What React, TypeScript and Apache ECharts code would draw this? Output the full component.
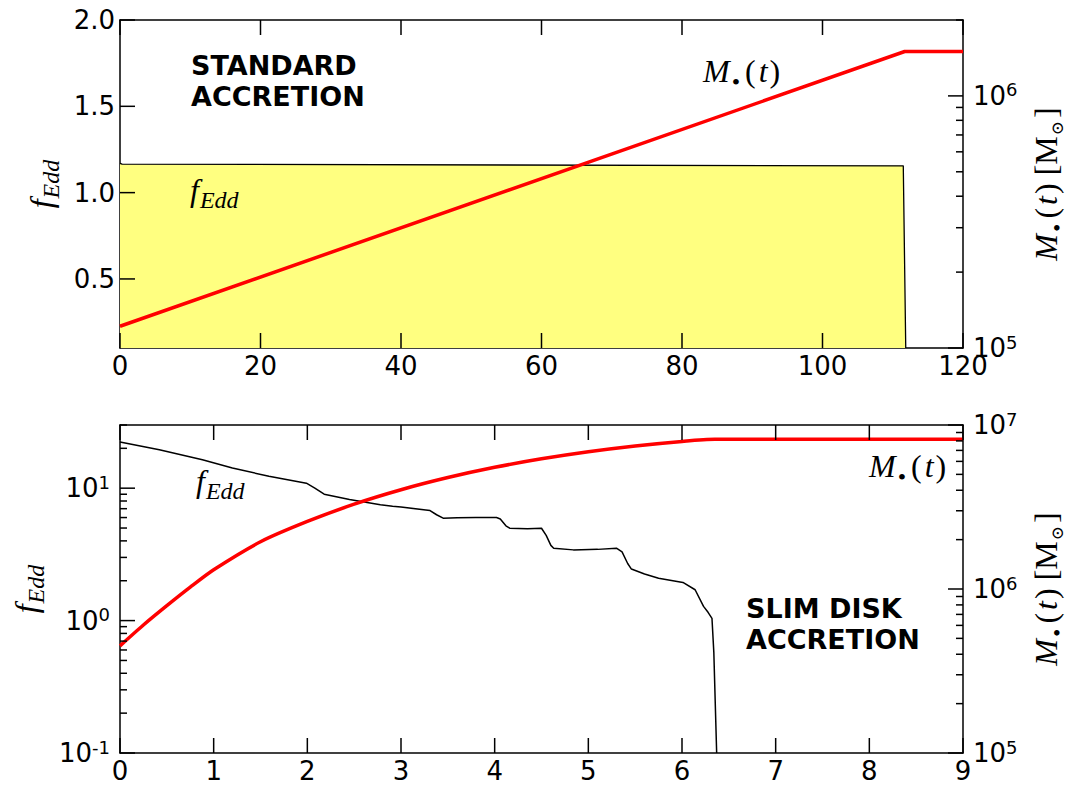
import React, { useEffect, useRef } from "react";
import * as echarts from "echarts";

// ---------- DATA ----------
// Top panel (standard accretion), time axis 0..120
const topFeddT = [0, 0.3, 111.5, 111.85];
const topFeddV = [1.17, 1.165, 1.155, 0.1];
const topMassT = [0, 111.7, 120];
const topMassV = [1.22e5, 1.5e6, 1.5e6];

// Bottom panel (slim disk accretion), time axis 0..9
const botFeddT = [0, 0.42, 0.88, 1.2, 1.59, 1.99, 2.08, 2.18, 2.45, 2.78, 2.91, 3.0, 3.31, 3.38, 3.45, 3.6, 3.8, 4.02, 4.06, 4.12, 4.16, 4.35, 4.5, 4.55, 4.6, 4.63, 4.84, 5.1, 5.3, 5.36, 5.42, 5.46, 5.6, 5.75, 6.01, 6.14, 6.23, 6.28, 6.32, 6.34, 6.37];
const botFeddV = [22.3, 19.5, 16.4, 14.2, 12.3, 10.9, 10.0, 9.0, 8.2, 7.5, 7.3, 7.2, 6.78, 6.3, 5.94, 5.97, 6.0, 6.0, 5.85, 5.2, 4.99, 4.93, 4.98, 4.4, 3.7, 3.52, 3.42, 3.45, 3.52, 3.3, 2.7, 2.45, 2.25, 2.09, 1.94, 1.71, 1.28, 1.15, 1.04, 0.57, 0.1];
const botMassT = [0, 0.25, 0.5, 0.75, 1, 1.5, 2, 2.5, 3, 3.5, 4, 4.5, 5, 5.5, 6, 6.35, 9];
const botMassV = [4.5e5, 6.03e5, 7.91e5, 1.026e6, 1.31e6, 1.94e6, 2.58e6, 3.29e6, 4.03e6, 4.78e6, 5.52e6, 6.22e6, 6.87e6, 7.45e6, 7.94e6, 8.18e6, 8.18e6];

// Tick values
const topXTicks = [0, 20, 40, 60, 80, 100, 120];
const botXTicks = [0, 1, 2, 3, 4, 5, 6, 7, 8, 9];
const topLinTicks = [0.5, 1.0, 1.5, 2.0];
const topLogMajor = [1e5, 1e6];
const topLogMinor = [2e5, 3e5, 4e5, 5e5, 6e5, 7e5, 8e5, 9e5, 2e6];
const botLeftMajor = [0.1, 1, 10];
const botLeftMinor = [0.2, 0.3, 0.4, 0.5, 0.6, 0.7, 0.8, 0.9, 2, 3, 4, 5, 6, 7, 8, 9, 20, 30];
const botRightMajor = [1e5, 1e6, 1e7];
const botRightMinor = [2e5, 3e5, 4e5, 5e5, 6e5, 7e5, 8e5, 9e5, 2e6, 3e6, 4e6, 5e6, 6e6, 7e6, 8e6, 9e6];

// axis ranges
const TOP_X = [0, 120];
const BOT_X = [0, 9];
const TOP_LIN = [0.1, 2.0];
const TOP_LOG = [1e5, 2e6];
const BOT_LEFT = [0.1, 30];
const BOT_RIGHT = [1e5, 1e7];

const zip = (a: number[], b: number[]) => a.map((v, i) => [v, b[i]]);

const GRIDS = [
  { left: 120, top: 20, width: 843, height: 328 },
  { left: 120, top: 425, width: 843, height: 328 },
];

const TICK_FONT = "DejaVu Sans";
const MATH_FONT = "Liberation Serif";
const FS = 26;

const mathRich: any = {
  i: { fontFamily: MATH_FONT, fontStyle: "italic", fontSize: 32, color: "#000", lineHeight: 36, verticalAlign: "top" },
  t: { fontFamily: MATH_FONT, fontStyle: "italic", fontSize: 32, color: "#000", lineHeight: 36, verticalAlign: "top", padding: [0, 2, 0, 3] },
  n: { fontFamily: MATH_FONT, fontSize: 32, color: "#000", lineHeight: 36, verticalAlign: "top" },
  s: { fontFamily: MATH_FONT, fontStyle: "italic", fontSize: 24, color: "#000", lineHeight: 20, height: 20, verticalAlign: "bottom", padding: [0, 0, 0, 1] },
  d: { fontFamily: MATH_FONT, fontSize: 24, color: "#000", lineHeight: 18, height: 18, verticalAlign: "bottom", padding: [0, 5, 0, 2] },
  u: { fontFamily: "DejaVu Serif", fontSize: 17, color: "#000", lineHeight: 18, height: 18, verticalAlign: "bottom", padding: [0, 3, 0, 1] },
};

const supRich: any = {
  b: { fontFamily: TICK_FONT, fontSize: FS, color: "#000", lineHeight: 30 },
  p: { fontFamily: TICK_FONT, fontSize: 18, color: "#000", lineHeight: 8, verticalAlign: "top" },
};

const axisLine = () => ({ show: true, onZero: false, lineStyle: { color: "#000", width: 1.5 } });

function xAx(gridIndex: number, range: number[], interval: number, position: string, showLabel: boolean) {
  return {
    type: "value",
    gridIndex,
    min: range[0],
    max: range[1],
    interval,
    position,
    axisLine: axisLine(),
    axisTick: { show: false },
    axisLabel: {
      show: showLabel,
      color: "#000",
      fontFamily: TICK_FONT,
      fontSize: FS,
      margin: 5,
      showMinLabel: true,
      showMaxLabel: true,
    },
    splitLine: { show: false },
  };
}

const logFmt = (v: number) => `{b|10}{p|${Math.round(Math.log10(v))}}`;

function logAx(gridIndex: number, range: number[], position: string, major: number[], name: string, nameGap: number) {
  return {
    type: "log",
    logBase: 10,
    gridIndex,
    min: range[0],
    max: range[1],
    position,
    name,
    nameLocation: "middle",
    nameRotate: 90,
    nameGap,
    nameTextStyle: { rich: mathRich },
    axisLine: axisLine(),
    axisTick: { show: false },
    axisLabel: { show: true, customValues: major, formatter: logFmt, rich: supRich, margin: 10 },
    splitLine: { show: false },
    minorTick: { show: false },
  };
}

// axis-value -> pixel, same mapping as the axes above (linear or log10)
const xPix = (g: any, r: number[], v: number) => g.left + ((v - r[0]) / (r[1] - r[0])) * g.width;
const yPix = (g: any, r: number[], v: number, log: boolean) => {
  const f = log
    ? (Math.log10(v) - Math.log10(r[0])) / (Math.log10(r[1]) - Math.log10(r[0]))
    : (v - r[0]) / (r[1] - r[0]);
  return g.top + g.height - f * g.height;
};

function buildTicks(): any[] {
  const out: any[] = [];
  const vtick = (x: number, y0: number, len: number) =>
    out.push({ type: "rect", z: 60, shape: { x: x - 0.75, y: len > 0 ? y0 : y0 + len, width: 1.5, height: Math.abs(len) }, style: { fill: "#000" } });
  const htick = (x0: number, y: number, len: number) =>
    out.push({ type: "rect", z: 60, shape: { x: len > 0 ? x0 : x0 + len, y: y - 0.75, width: Math.abs(len), height: 1.5 }, style: { fill: "#000" } });

  const xT = (g: any, r: number[], ticks: number[]) => {
    ticks.forEach((t) => {
      const x = xPix(g, r, t);
      vtick(x, g.top + g.height, -15);
      vtick(x, g.top, 15);
    });
  };
  const yT = (g: any, r: number[], log: boolean, values: number[], side: "left" | "right", len: number) => {
    values.forEach((v) => {
      const y = yPix(g, r, v, log);
      if (side === "left") htick(g.left, y, len);
      else htick(g.left + g.width, y, -len);
    });
  };
  xT(GRIDS[0], TOP_X, topXTicks);
  xT(GRIDS[1], BOT_X, botXTicks);
  yT(GRIDS[0], TOP_LIN, false, topLinTicks, "left", 15);
  yT(GRIDS[0], TOP_LOG, true, topLogMajor, "right", 15);
  yT(GRIDS[0], TOP_LOG, true, topLogMinor, "right", 7);
  yT(GRIDS[1], BOT_LEFT, true, botLeftMajor, "left", 15);
  yT(GRIDS[1], BOT_LEFT, true, botLeftMinor, "left", 7);
  yT(GRIDS[1], BOT_RIGHT, true, botRightMajor, "right", 15);
  yT(GRIDS[1], BOT_RIGHT, true, botRightMinor, "right", 7);
  return out;
}

const feddName = "{i|f}{s|Edd}";
const massName = "{i|M}{d|•}{n|(}{t|t}{n|) [M}{u|⊙}{n|]}";
const massLabel = "{i|M}{d|•}{n|(}{t|t}{n|)}";

export default function App() {
  const ref = useRef<HTMLDivElement>(null);
  useEffect(() => {
    document.body.style.margin = "0";
    const chart = echarts.init(ref.current!, null, { renderer: "svg" });
    const texts: any[] = [
      {
        type: "text",
        left: 191,
        top: 50,
        z: 10,
        style: {
          text: "STANDARD\nACCRETION",
          fontFamily: TICK_FONT,
          fontWeight: "bold",
          fontSize: 27,
          lineHeight: 31,
          fill: "#000",
        },
      },
      {
        type: "text",
        left: 746,
        top: 593,
        z: 10,
        style: {
          text: "SLIM DISK\nACCRETION",
          fontFamily: TICK_FONT,
          fontWeight: "bold",
          fontSize: 27,
          lineHeight: 31,
          fill: "#000",
          align: "center",
          width: 176,
        },
      },
      { type: "text", left: 190, top: 174, z: 10, style: { text: feddName, rich: mathRich } },
      { type: "text", left: 703, top: 55, z: 10, style: { text: massLabel, rich: mathRich } },
      { type: "text", left: 196, top: 465, z: 10, style: { text: feddName, rich: mathRich } },
      { type: "text", left: 869, top: 450, z: 10, style: { text: massLabel, rich: mathRich } },
    ];
    const option: any = {
      animation: false,
      backgroundColor: "#fff",
      grid: GRIDS.map((g) => ({ ...g, outerBoundsMode: "none", containLabel: false })),
      xAxis: [
        xAx(0, TOP_X, 20, "bottom", true),
        xAx(0, TOP_X, 20, "top", false),
        xAx(1, BOT_X, 1, "bottom", true),
        xAx(1, BOT_X, 1, "top", false),
      ],
      yAxis: [
        {
          type: "value",
          gridIndex: 0,
          min: TOP_LIN[0],
          max: TOP_LIN[1],
          position: "left",
          name: feddName,
          nameLocation: "middle",
          nameRotate: 90,
          nameGap: 56,
          nameTextStyle: { rich: mathRich },
          axisLine: axisLine(),
          axisTick: { show: false },
          axisLabel: {
            show: true,
            customValues: topLinTicks,
            formatter: (v: number) => v.toFixed(1),
            color: "#000",
            fontFamily: TICK_FONT,
            fontSize: FS,
            margin: 5,
          },
          splitLine: { show: false },
        },
        logAx(0, TOP_LOG, "right", topLogMajor, massName, 67),
        logAx(1, BOT_LEFT, "left", botLeftMajor, feddName, 56),
        logAx(1, BOT_RIGHT, "right", botRightMajor, massName, 67),
      ],
      series: [
        {
          type: "line",
          xAxisIndex: 0,
          yAxisIndex: 0,
          data: zip(topFeddT, topFeddV),
          symbol: "none",
          lineStyle: { color: "#000", width: 1.3 },
          areaStyle: { color: "#ffff80", opacity: 1, origin: "start" },
          z: 2,
        },
        {
          type: "line",
          xAxisIndex: 0,
          yAxisIndex: 1,
          data: zip(topMassT, topMassV),
          symbol: "none",
          lineStyle: { color: "#ff0000", width: 3.5 },
          z: 3,
        },
        {
          type: "line",
          xAxisIndex: 2,
          yAxisIndex: 2,
          data: zip(botFeddT, botFeddV),
          symbol: "none",
          lineStyle: { color: "#000", width: 1.5 },
          z: 2,
        },
        {
          type: "line",
          xAxisIndex: 2,
          yAxisIndex: 3,
          data: zip(botMassT, botMassV),
          symbol: "none",
          smooth: 0.25,
          lineStyle: { color: "#ff0000", width: 3.5 },
          z: 3,
        },
      ],
      graphic: [...texts, ...buildTicks()],
    };
    chart.setOption(option);
    return () => chart.dispose();
  }, []);
  return <div ref={ref} style={{ width: 1070, height: 788 }} />;
}
